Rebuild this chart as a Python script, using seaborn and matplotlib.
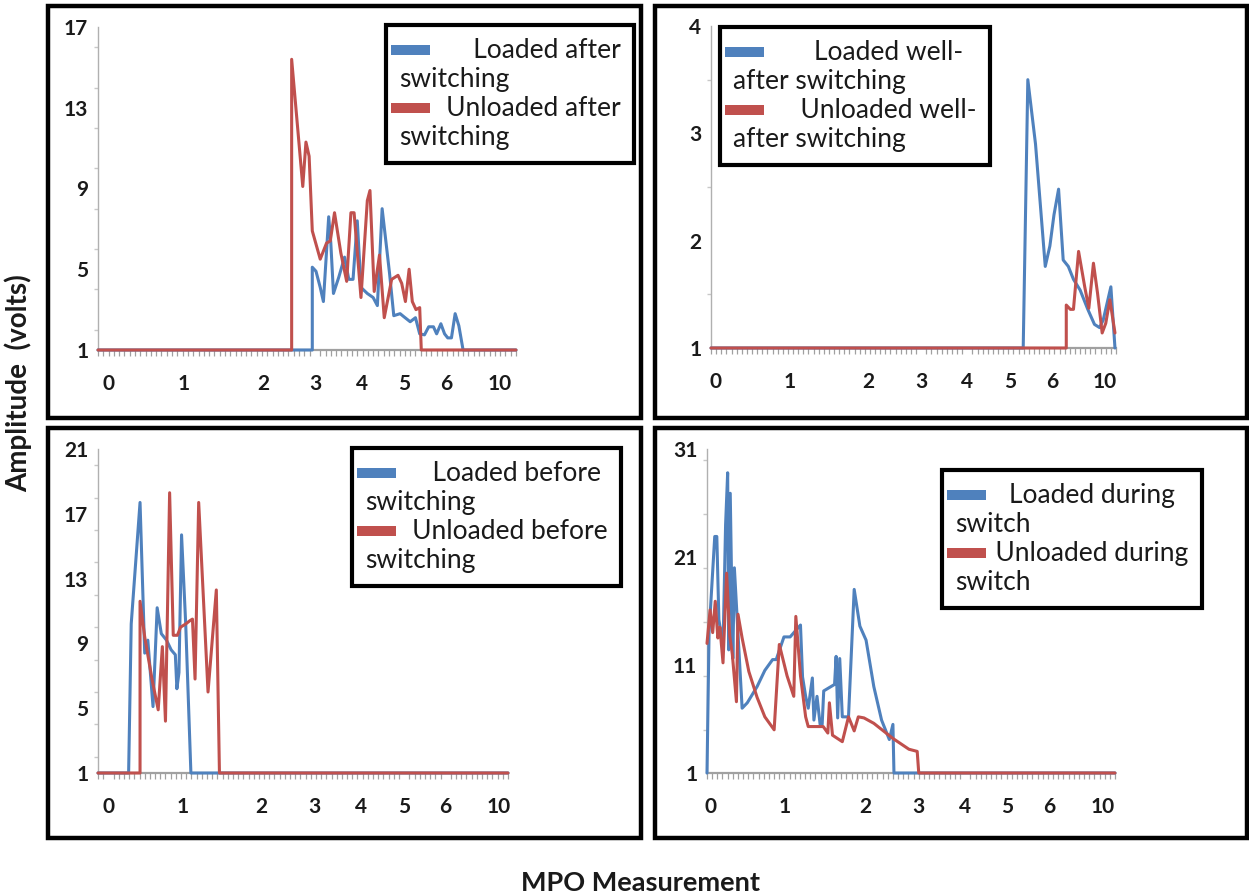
import matplotlib.pyplot as plt
import seaborn as sns
from matplotlib.patches import Rectangle
from matplotlib.lines import Line2D
from matplotlib.legend_handler import HandlerBase
from matplotlib.ticker import MultipleLocator

# -------------------------------------------------------
# data (x = sample position on the MPO axis)
x_tick_labels = ['0', '1', '2', '3', '4', '5', '6', '10']

after_loaded_x = [0, 40.5, 40.5, 41.2, 42.0, 42.6, 43.6, 44.0, 44.5, 45.5, 46.6, 47.4, 48.2,
                  49.0, 49.7, 50.9, 52.0, 52.8, 53.7, 54.4, 55.1, 55.9, 57.1, 57.8, 59.0,
                  60.0, 60.8, 61.7, 62.5, 63.4, 64.0, 64.8, 65.5, 66.1, 66.8, 67.5, 68.2,
                  69.0, 79]
after_loaded_y = [1, 1, 5.1, 4.9, 4.1, 3.4, 7.6, 6.3, 3.8, 4.6, 5.6, 4.5, 4.5, 7.4, 4.1,
                  3.8, 3.6, 3.2, 8.0, 6.4, 4.8, 2.7, 2.8, 2.65, 2.4, 2.6, 1.8, 1.75, 2.15,
                  2.15, 1.8, 2.3, 1.8, 1.6, 1.6, 2.8, 2.2, 1, 1]
after_unloaded_x = [0, 36.6, 36.6, 38.7, 39.3, 39.9, 40.5, 42.0, 43.2, 43.9, 44.7, 45.9,
                    47.0, 47.8, 48.4, 49.7, 50.9, 51.4, 52.2, 53.2, 54.1, 55.5, 56.7, 57.4,
                    58.1, 58.8, 59.4, 60.1, 60.8, 61.1, 79]
after_unloaded_y = [1, 1, 15.4, 9.1, 11.3, 10.6, 6.9, 5.5, 6.3, 6.4, 7.8, 5.8, 4.4, 7.8,
                    7.8, 3.6, 8.4, 8.9, 3.9, 5.7, 2.6, 4.5, 4.7, 4.3, 3.4, 5.0, 3.4, 3.0,
                    3.1, 1, 1]

well_loaded_x = [0, 60.9, 61.8, 63.3, 65.2, 66.1, 66.9, 67.8, 68.7, 69.7, 70.7, 72.0, 73.5,
                 74.8, 75.8, 76.5, 78.0, 78.8]
well_loaded_y = [1, 1, 3.5, 2.9, 1.76, 1.95, 2.24, 2.48, 1.82, 1.76, 1.64, 1.54, 1.36,
                 1.22, 1.19, 1.26, 1.57, 1]
well_unloaded_x = [0, 69.3, 69.3, 70.1, 70.7, 71.7, 72.9, 73.7, 74.6, 75.4, 76.3, 77.0,
                   77.8, 78.8]
well_unloaded_y = [1, 1, 1.40, 1.36, 1.36, 1.9, 1.57, 1.37, 1.79, 1.51, 1.14, 1.23, 1.45,
                   1.14]

before_loaded_x = [0, 5.9, 6.4, 8.1, 9.0, 9.6, 10.6, 11.4, 12.2, 13.2, 14.1, 14.9, 15.2,
                   15.6, 16.1, 16.9, 17.9, 79]
before_loaded_y = [1, 1, 10.2, 17.7, 8.4, 9.2, 5.1, 11.2, 9.6, 9.2, 8.6, 8.3, 6.2, 7.2,
                   15.7, 10.2, 1, 1]
before_unloaded_x = [0, 8.1, 8.1, 9.0, 10.4, 11.6, 12.4, 13.0, 13.8, 14.5, 15.3, 15.9,
                     16.9, 17.7, 18.2, 18.7, 19.4, 21.2, 22.8, 23.4, 79]
before_unloaded_y = [1, 1, 11.6, 9.4, 6.8, 4.9, 8.8, 4.2, 18.3, 9.5, 9.5, 10.0, 10.2,
                     10.4, 10.5, 6.8, 17.7, 6.0, 12.3, 1, 1]

during_loaded_x = [0, 0.4, 1.5, 1.9, 2.3, 3.1, 3.6, 4.0, 4.2, 4.5, 5.0, 5.3, 6.8, 7.8, 9.7,
                   11.2, 12.7, 13.4, 14.9, 16.1, 18.1, 18.5, 19.1, 19.6, 20.4, 20.7, 21.3,
                   21.9, 22.3, 22.6, 24.0, 24.7, 25.0, 25.3, 25.7, 26.2, 27.4, 28.5, 29.6,
                   30.8, 32.3, 33.8, 35.3, 36.0, 36.2, 79]
during_loaded_y = [1, 14, 22.9, 22.9, 15.2, 12.7, 24, 28.8, 12.4, 26.9, 11.6, 20, 7.0, 7.5,
                   9, 10.5, 11.5, 11.5, 13.6, 13.6, 14.7, 9.9, 8.1, 7.0, 9.8, 5.9, 8.1, 5.5,
                   5.5, 8.6, 9.0, 9.2, 11.8, 6.1, 11.6, 6.2, 6.2, 18, 14.6, 13.3, 9.0, 5.9,
                   4.1, 5.5, 1, 1]
during_unloaded_x = [0, 0.6, 1.1, 1.6, 2.1, 2.5, 3.1, 3.8, 4.4, 4.9, 5.7, 6.0, 6.8, 8.1,
                     9.7, 11.2, 13.0, 14.0, 15.5, 16.8, 17.2, 18.1, 19.1, 19.6, 20.6, 22.5,
                     23.4, 23.7, 24.3, 26.2, 27.4, 28.5, 29.3, 30.4, 32.3, 36.0, 39.1, 40.7,
                     41.0, 79]
during_unloaded_y = [13.0, 16.1, 14, 16.9, 13.5, 14.5, 11.2, 19.5, 13.7, 12, 7.6, 15.7,
                     13.5, 10.4, 8, 6.2, 5.0, 12.9, 10, 8.1, 15.5, 10, 6.2, 5.3, 5.3, 5.3,
                     4.7, 7.5, 4.5, 3.9, 6.2, 4.9, 6.2, 6.1, 5.6, 4.2, 3.2, 3.0, 1, 1]

BLUE = '#4F81BD'
RED = '#C0504D'
W, H = 1249, 896


class BarHandler(HandlerBase):
    # Excel style legend key: a thick bar beside the first line of the label
    def create_artists(self, legend, orig_handle, xdescent, ydescent, width, height,
                       fontsize, trans):
        bw, bh = 1.45 * fontsize, 0.38 * fontsize
        yc = -ydescent + height / 2 + 0.6 * fontsize
        bar = Rectangle((-0.3 * fontsize, yc - bh / 2), bw, bh,
                        facecolor=orig_handle.get_color(), edgecolor='none',
                        transform=trans)
        return [bar]


def fig_rect(l, t, r, b):
    return [l / W, 1 - b / H, (r - l) / W, (b - t) / H]


panels = [
    dict(box=(48, 6, 641, 418), ax=(98, 27, 516, 350), ylim=(1, 17), ystep=4,
         xt=[1.9, 16.2, 31.2, 41.0, 49.9, 57.8, 65.9, 75.9], leg=(386, 25),
         blue=(after_loaded_x, after_loaded_y), red=(after_unloaded_x, after_unloaded_y),
         labels=(' ' * 11 + 'Loaded after\nswitching', ' ' * 7 + 'Unloaded after\nswitching')),
    dict(box=(655, 6, 1247, 418), ax=(711, 26, 1116, 348), ylim=(1, 4), ystep=1,
         xt=[0.9, 15.3, 30.6, 41.0, 50.0, 58.4, 66.5, 76.7], leg=(720, 27),
         blue=(well_loaded_x, well_loaded_y), red=(well_unloaded_x, well_unloaded_y),
         labels=(' ' * 12 + 'Loaded well-\nafter switching',
                 ' ' * 10 + 'Unloaded well-\nafter switching')),
    dict(box=(48, 428, 641, 838), ax=(98, 449, 508, 773), ylim=(1, 21), ystep=4,
         xt=[2.0, 16.3, 31.4, 41.7, 50.7, 59.0, 67.0, 77.2], leg=(352, 448),
         blue=(before_loaded_x, before_loaded_y), red=(before_unloaded_x, before_unloaded_y),
         labels=(' ' * 10 + 'Loaded before\nswitching', ' ' * 7 + 'Unloaded before\nswitching')),
    dict(box=(655, 428, 1247, 838), ax=(707, 449, 1115, 773), ylim=(1, 31), ystep=10,
         xt=[0.75, 15.1, 30.6, 40.9, 50.0, 58.1, 66.2, 76.6], leg=(942, 470),
         blue=(during_loaded_x, during_loaded_y), red=(during_unloaded_x, during_unloaded_y),
         labels=(' ' * 8 + 'Loaded during\nswitch', ' ' * 6 + 'Unloaded during\nswitch')),
]


def main():
    sns.set_style('white')
    plt.rcParams['font.family'] = ['Lato', 'DejaVu Sans']
    fig = plt.figure(figsize=(W / 100, H / 100), dpi=100)

    for p in panels:
        l, t, r, b = p['box']
        fig.add_artist(Rectangle((l / W, 1 - b / H), (r - l) / W, (b - t) / H,
                                 transform=fig.transFigure, fill=False,
                                 edgecolor='black', linewidth=3.2))
        ax = fig.add_axes(fig_rect(*p['ax']))
        sns.lineplot(x=p['blue'][0], y=p['blue'][1], ax=ax, color=BLUE, lw=2.2,
                     estimator=None, sort=False, label=p['labels'][0], clip_on=False,
                     zorder=4)
        sns.lineplot(x=p['red'][0], y=p['red'][1], ax=ax, color=RED, lw=2.2,
                     estimator=None, sort=False, label=p['labels'][1], clip_on=False,
                     zorder=5)
        ax.set_xlim(0, 79)
        ax.set_ylim(*p['ylim'])
        lo, hi = p['ylim']
        ax.set_yticks(list(range(lo, hi + 1, p['ystep'])))
        ax.yaxis.set_minor_locator(MultipleLocator(p['ystep'] / 2))
        ax.set_xticks(p['xt'])
        ax.set_xticklabels(x_tick_labels)
        ax.xaxis.set_minor_locator(MultipleLocator(1))
        for side in ['top', 'right']:
            ax.spines[side].set_visible(False)
        ax.spines['left'].set_color('#B0B0B0')
        ax.spines['left'].set_linewidth(1.0)
        ax.spines['bottom'].set_color('#A0A0A0')
        ax.spines['bottom'].set_linewidth(1.6)
        ax.tick_params(axis='y', which='major', length=4, width=1, color='#B0B0B0',
                       pad=3, labelsize=15)
        ax.tick_params(axis='y', which='minor', left=True, length=3, width=1,
                       color='#C8C8C8')
        ax.tick_params(axis='x', which='major', length=0, pad=17, labelsize=15)
        ax.tick_params(axis='x', which='minor', bottom=True, length=4, width=0.9,
                       color='#A0A0A0')
        for lab in ax.get_xticklabels() + ax.get_yticklabels():
            lab.set_fontweight('bold')
            lab.set_color('#1a1a1a')
        ax.set_xlabel('')
        ax.set_ylabel('')
        handles, labels = ax.get_legend_handles_labels()
        lx, ly = p['leg']
        leg = ax.legend(handles, labels, loc='upper left',
                        bbox_to_anchor=(lx / W, 1 - ly / H), bbox_transform=fig.transFigure,
                        borderaxespad=0, handlelength=0, handletextpad=0, borderpad=0.5,
                        labelspacing=0.15, fontsize=19, fancybox=False, framealpha=1,
                        handler_map={Line2D: BarHandler()})
        leg.get_frame().set_edgecolor('black')
        leg.get_frame().set_linewidth(3)
        for txt in leg.get_texts():
            txt.set_color('#1a1a1a')

    fig.text(18 / W, 1 - 383 / H, 'Amplitude  (volts)', rotation=90, ha='center',
             va='center', fontsize=20, fontweight='bold', color='#1a1a1a')
    fig.text(641 / W, 1 - 883 / H, 'MPO Measurement', ha='center', va='center',
             fontsize=19.5, fontweight='bold', color='#1a1a1a')
    fig.savefig('out.png', dpi=100)


if __name__ == '__main__':
    main()
